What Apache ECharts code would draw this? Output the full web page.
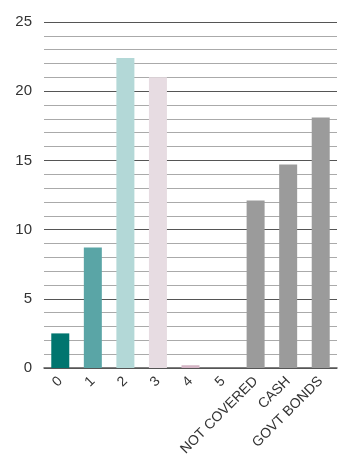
<!DOCTYPE html>
<html>
<head>
<meta charset="utf-8">
<script src="https://cdn.jsdelivr.net/npm/echarts@6/dist/echarts.min.js"></script>
<style>html,body{margin:0;padding:0;background:#fff;}#c{width:360px;height:472px;}</style>
</head>
<body>
<div id="c"></div>
<script>
var categories = ['0', '1', '2', '3', '4', '5', 'NOT COVERED', 'CASH', 'GOVT BONDS'];
var values = [2.5, 8.7, 22.4, 21.0, 0.2, 0, 12.1, 14.7, 18.1];
var barColors = ['#00756f', '#5aa5a6', '#b3d8d7', '#e7dce2', '#d4b5c5', '#d4b5c5', '#9b9b9b', '#9b9b9b', '#9b9b9b'];
var yTicks = [0, 5, 10, 15, 20, 25];

var chart = echarts.init(document.getElementById('c'), null, {renderer: 'canvas'});
chart.setOption({
  animation: false,
  grid: {left: 44, right: 23, top: 22, bottom: 104, containLabel: false},
  xAxis: {
    type: 'category',
    data: categories,
    axisLine: {lineStyle: {color: '#555', width: 1.5}},
    axisTick: {show: false},
    axisLabel: {rotate: 45, fontFamily: 'Liberation Sans', fontSize: 14, color: '#333', margin: 11, interval: 0}
  },
  yAxis: {
    type: 'value',
    min: 0, max: 25, interval: 1,
    axisLine: {show: false},
    axisTick: {show: false},
    axisLabel: {
      fontFamily: 'Liberation Sans', fontSize: 15, color: '#333', margin: 12,
      formatter: function (v) { return yTicks.indexOf(v) >= 0 ? String(v) : ''; }
    },
    splitLine: {lineStyle: {color: ['#555', '#aaa', '#aaa', '#aaa', '#aaa'], width: 1.2}}
  },
  series: [{
    type: 'bar',
    data: values.map(function (v, i) { return {value: v, itemStyle: {color: barColors[i]}}; }),
    barWidth: 18
  }]
});
</script>
</body>
</html>
